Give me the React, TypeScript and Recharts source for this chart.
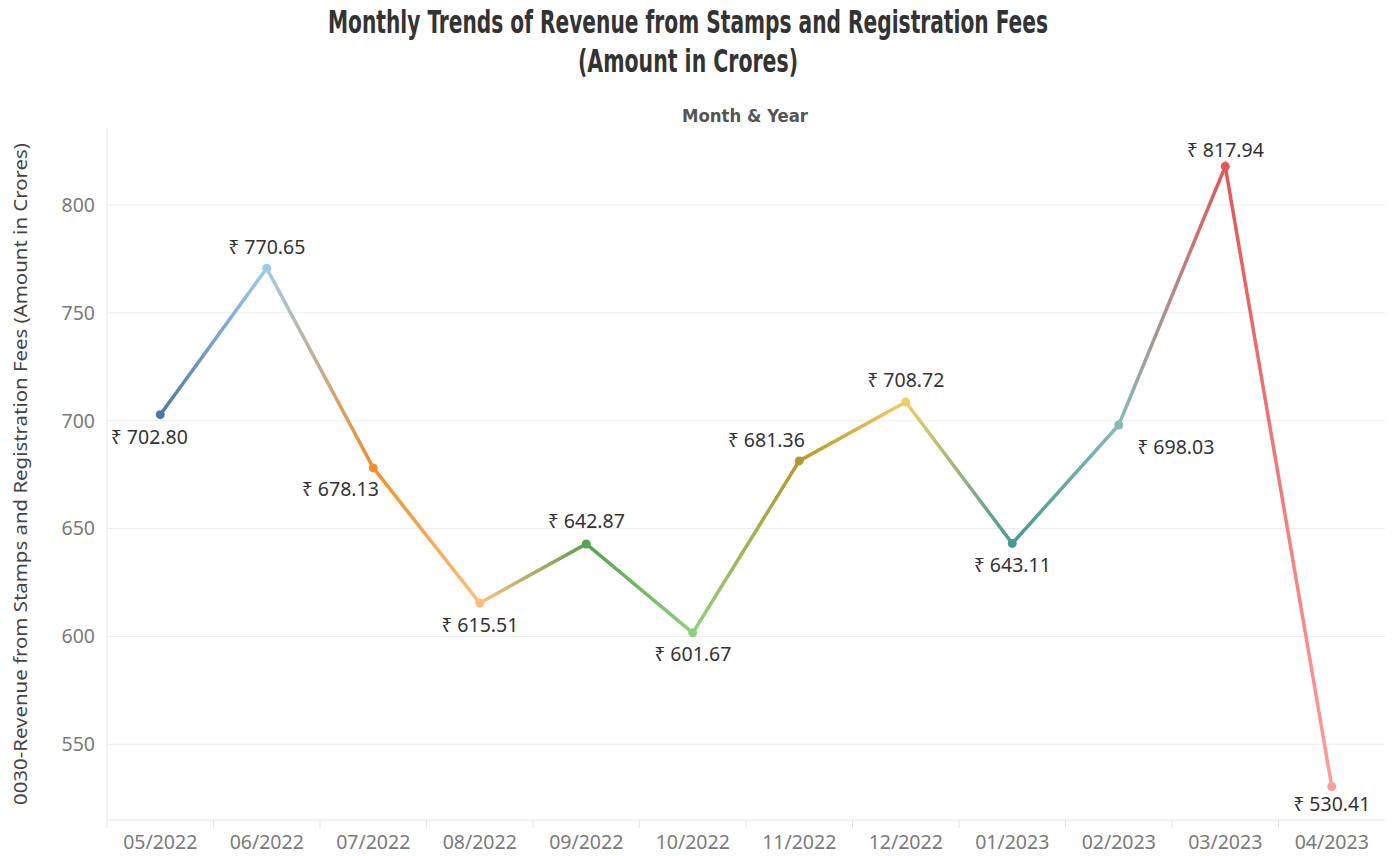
import React from 'react';
import { LineChart, Line, XAxis, YAxis, CartesianGrid, LabelList } from 'recharts';

const months = ['05/2022', '06/2022', '07/2022', '08/2022', '09/2022', '10/2022', '11/2022', '12/2022', '01/2023', '02/2023', '03/2023', '04/2023'];
const revenue = [702.8, 770.65, 678.13, 615.51, 642.87, 601.67, 681.36, 708.72, 643.11, 698.03, 817.94, 530.41];
const pointColors = ['#4E79A7', '#A0CBE8', '#F28E2B', '#FFBE7D', '#59A14F', '#8CD17D', '#B6992D', '#F1CE63', '#499894', '#86BCB6', '#E15759', '#FF9D9A'];
const yTicks = [550, 600, 650, 700, 750, 800];

// label placement relative to each point (dx, dy of label center)
const labelOffsets: [number, number][] = [
  [-11, 22], [0, -22], [-33, 21], [0, 22], [0, -23], [0, 21],
  [-33, -21], [0, -22], [0, 21], [57, 22], [0, -17], [0, 17],
];

const data = months.map((m, i) => ({ month: m, value: revenue[i] }));

const W = 1398;
const H = 856;
const PLOT_LEFT = 107;
const PLOT_RIGHT = 1385;
const PLOT_TOP = 128;
const PLOT_BOTTOM = 820;
const BAND = (PLOT_RIGHT - PLOT_LEFT) / months.length;

const labelFont = '"Noto Sans", "Open Sans", "DejaVu Sans", sans-serif';
const condFont = '"DejaVu Sans Condensed", "DejaVu Sans", sans-serif';

const XTick = (props: any) => {
  const { x, payload } = props;
  return (
    <g>
      <line x1={x - BAND / 2} x2={x - BAND / 2} y1={PLOT_BOTTOM} y2={PLOT_BOTTOM + 8} stroke="#e3e3e3" strokeWidth={1} />
      <text x={x} y={PLOT_BOTTOM + 21} textAnchor="middle" dominantBaseline="central" fill="#7a7a7a" fontSize={19.5} fontFamily={labelFont}>
        {payload.value}
      </text>
    </g>
  );
};

const renderDot = (props: any) => {
  const { cx, cy, index } = props;
  return <circle key={`dot-${index}`} cx={cx} cy={cy} r={4.5} fill={pointColors[index]} stroke="none" />;
};

const renderLabel = (props: any) => {
  const { x, y, index, value } = props;
  const [dx, dy] = labelOffsets[index] || [0, -20];
  return (
    <text key={`lbl-${index}`} x={x + dx} y={y + dy} textAnchor="middle" dominantBaseline="central" fill="#333333" fontSize={19.5} fontFamily={labelFont}>
      {`₹ ${Number(value).toFixed(2)}`}
    </text>
  );
};

export default function App() {
  return (
    <div style={{ position: 'absolute', left: 0, top: 0, width: W, height: H, background: '#ffffff' }}>
      <LineChart
        width={W}
        height={H}
        data={data}
        margin={{ top: PLOT_TOP, right: W - PLOT_RIGHT, bottom: 0, left: 0 }}
      >
        <defs>
          <linearGradient id="segGrad" x1="0" y1="0" x2="1" y2="0">
            {pointColors.map((c, i) => (
              <stop key={i} offset={`${(i / (pointColors.length - 1)) * 100}%`} stopColor={c} />
            ))}
          </linearGradient>
        </defs>
        <CartesianGrid horizontal vertical={false} stroke="#ececec" strokeWidth={1} horizontalValues={yTicks} />
        <XAxis
          dataKey="month"
          height={H - PLOT_BOTTOM}
          axisLine={{ stroke: '#e6e6e6' }}
          tickLine={false}
          tick={<XTick />}
          interval={0}
          padding={{ left: BAND / 2, right: BAND / 2 }}
        />
        <YAxis
          width={PLOT_LEFT}
          domain={[514.9, 835.7]}
          ticks={yTicks}
          allowDataOverflow
          axisLine={{ stroke: '#e6e6e6' }}
          tickLine={false}
          tickMargin={6}
          tick={{ fill: '#7a7a7a', fontSize: 19.5, fontFamily: labelFont }}
        />
        <Line
          type="linear"
          dataKey="value"
          stroke="url(#segGrad)"
          strokeWidth={3.5}
          dot={renderDot}
          activeDot={false}
          isAnimationActive={false}
        >
          <LabelList dataKey="value" content={renderLabel} />
        </Line>
      </LineChart>
      <svg width={W} height={H} style={{ position: 'absolute', left: 0, top: 0, pointerEvents: 'none' }}>
        <text x={688} y={33} textAnchor="middle" fill="#333333" fontSize={32} fontWeight="bold" fontFamily={condFont} textLength={720} lengthAdjust="spacingAndGlyphs">
          Monthly Trends of Revenue from Stamps and Registration Fees
        </text>
        <text x={688} y={72} textAnchor="middle" fill="#333333" fontSize={32} fontWeight="bold" fontFamily={condFont} textLength={220} lengthAdjust="spacingAndGlyphs">
          (Amount in Crores)
        </text>
        <text x={745} y={122} textAnchor="middle" fill="#555555" fontSize={18} fontWeight="bold" fontFamily={condFont} textLength={126} lengthAdjust="spacingAndGlyphs">
          Month &amp; Year
        </text>
        <text
          transform={`translate(27, 474) rotate(-90)`}
          x={0}
          y={0}
          textAnchor="middle"
          fill="#444444"
          fontSize={18}
          fontFamily={labelFont}
          textLength={662}
          lengthAdjust="spacingAndGlyphs"
        >
          0030-Revenue from Stamps and Registration Fees (Amount in Crores)
        </text>
      </svg>
    </div>
  );
}
